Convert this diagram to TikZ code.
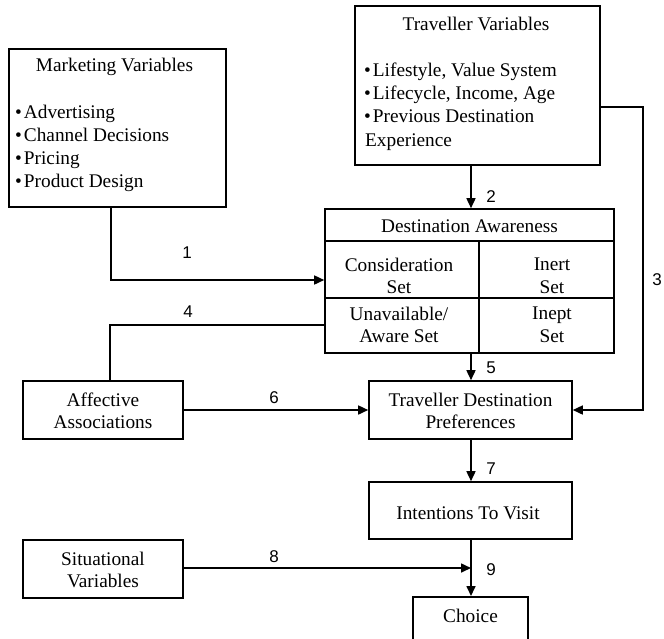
\documentclass[tikz,border=0pt]{standalone}
\usepackage{fontspec}
\setmainfont{Liberation Serif}
\newfontfamily\numfont{Liberation Sans}
\usetikzlibrary{arrows.meta,calc}
\begin{document}
\begin{tikzpicture}[x=1pt,y=-1pt,
  box/.style={draw, line width=1.6pt, rectangle, inner sep=0pt},
  txt/.style={font=\fontsize{19.3}{22.5}\selectfont, inner sep=0pt, align=center},
  item/.style={font=\fontsize{19.3}{22.5}\selectfont, inner sep=0pt, anchor=base west},
  num/.style={font=\numfont\fontsize{17}{20}\selectfont, inner sep=0pt},
  link/.style={line width=1.6pt},
  arr/.style={line width=1.6pt, -{Triangle[length=10pt,width=9pt]}}
]
\clip (0,0) rectangle (664,638);

% ---- boxes
\node[box, minimum width=217pt, minimum height=158pt] (mkt) at (117.5,128) {};
\node[box, minimum width=245pt, minimum height=159pt] (trav) at (477.5,85.5) {};
\node[box, minimum width=289pt, minimum height=144pt] (dest) at (469.5,281) {};
\node[box, minimum width=160pt, minimum height=58pt] (aff) at (103,410) {};
\node[box, minimum width=203pt, minimum height=58pt] (prefs) at (470.5,410) {};
\node[box, minimum width=203pt, minimum height=57pt] (intent) at (470.5,510.5) {};
\node[box, minimum width=160pt, minimum height=58pt] (sit) at (103,569) {};
\node[box, minimum width=115pt, minimum height=80pt, anchor=north] (choice) at (470.5,596) {};

% ---- inner grid of the awareness box
\draw[link] ($(dest.north west)+(0,33)$) -- ($(dest.north east)+(0,33)$);
\draw[link] ($(dest.north west)+(0,90)$) -- ($(dest.north east)+(0,90)$);
\draw[link] ($(dest.north west)+(155,33)$) -- ($(dest.south west)+(155,0)$);

% ---- box texts
\node[txt] (mkttitle) at (114.5,67) {Marketing Variables};
\foreach \t [count=\i] in {Advertising, Channel Decisions, Pricing, Product Design}
  \node[item] (mk\i) at (15,{118+23.3*(\i-1)}) {•\hspace{2pt}\t};

\node[txt] (travtitle) at (476,24) {Traveller Variables};
\foreach \t [count=\i] in {{Lifestyle, Value System}, {Lifecycle, Income, Age}, {Previous Destination}}
  \node[item] (tv\i) at (364,{76+23.3*(\i-1)}) {•\hspace{2pt}\t};
\node[item] (tv4) at (365,146) {Experience};

\node[txt] (desttitle) at (469.5,226) {Destination Awareness};
\node[txt] (consid) at (399,276) {Consideration\\Set};
\node[txt] (inert) at (552,276) {Inert\\Set};
\node[txt] (unavail) at (399,325) {Unavailable/\\Aware Set};
\node[txt] (inept) at (552,325) {Inept\\Set};

\node[txt] (afftxt) at (103,411) {Affective\\Associations};
\node[txt] (preftxt) at (470.5,411) {Traveller Destination\\Preferences};
\node[txt] (inttxt) at (468,513) {Intentions To Visit};
\node[txt] (sittxt) at (103,570) {Situational\\Variables};
\node[txt] (choicetxt) at (470.5,616) {Choice};

% ---- connectors
\coordinate (sp) at (471,0);
\coordinate (j1) at (111,280);
\coordinate (j3) at (643,107);
\coordinate (j4) at (110,325);
\coordinate (j8) at (0,568);

\draw[arr] (mkt.south -| j1) |- (dest.west |- j1);
\draw[arr] (trav.south -| sp) -- (dest.north -| sp);
\draw[arr] (trav.east |- j3) -- (j3) |- (prefs.east);
\draw[link] (dest.west |- j4) -- (j4) -- (aff.north -| j4);
\draw[arr] (dest.south -| sp) -- (prefs.north -| sp);
\draw[arr] (aff.east) -- (prefs.west);
\draw[arr] (prefs.south -| sp) -- (intent.north -| sp);
\draw[arr] (sit.east |- j8) -- (sp |- j8);
\draw[arr] (intent.south -| sp) -- (choice.north -| sp);

% ---- connector numbers
\node[num] (n1) at (187,253) {1};
\node[num] (n2) at (491,197) {2};
\node[num] (n3) at (657,280) {3};
\node[num] (n4) at (188,312) {4};
\node[num] (n5) at (491,368) {5};
\node[num] (n6) at (274,398) {6};
\node[num] (n7) at (491,469) {7};
\node[num] (n8) at (274,557) {8};
\node[num] (n9) at (491,570) {9};
\end{tikzpicture}
\end{document}
